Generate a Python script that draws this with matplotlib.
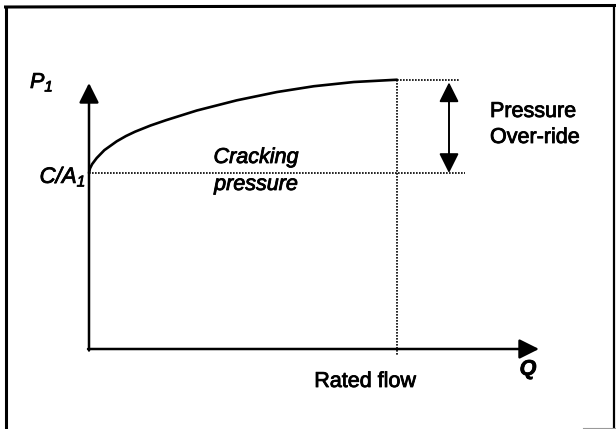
import matplotlib
matplotlib.use("Agg")
import matplotlib.pyplot as plt
from matplotlib.lines import Line2D
import matplotlib.patheffects as pe

plt.rcParams["font.family"] = ["Liberation Sans", "DejaVu Sans"]
plt.rcParams["mathtext.fontset"] = "custom"
plt.rcParams["mathtext.rm"] = "Liberation Sans:italic"
plt.rcParams["mathtext.it"] = "Liberation Sans:italic"
plt.rcParams["mathtext.bf"] = "Liberation Sans:bold"

# Relief-valve characteristic: inlet pressure P1 against flow Q
# (flow as a fraction of rated flow, pressure relative to cracking pressure)
flow = [0.0, 0.003, 0.01, 0.025, 0.05, 0.09, 0.12, 0.15, 0.2, 0.25, 0.35,
        0.48, 0.61, 0.73, 0.86, 1.0]
pressure = [1.0, 1.025, 1.05, 1.085, 1.13, 1.18, 1.21, 1.235, 1.27, 1.30,
            1.355, 1.413, 1.46, 1.493, 1.517, 1.53]

cracking_pressure = 1.0
rated_flow = 1.0
peak_pressure = pressure[-1]

W, H = 616, 429
fig = plt.figure(figsize=(W / 100, H / 100), dpi=100)
ax = fig.add_axes([0, 0, 1, 1])
ax.set_axis_off()

# data window: origin of the diagram sits at (89, 349) px, 308 px per unit flow,
# 176 px per unit pressure
x0, y0, sx, sy = 89, 349, 308, 176
ax.set_xlim(-x0 / sx, (W - x0) / sx)
ax.set_ylim(-(H - y0) / sy, y0 / sy)

def qx(px):
    return (px - x0) / sx

def py_(py):
    return (y0 - py) / sy

ink = "black"

# outer frame
frame_kw = dict(transform=ax.transAxes, color=ink, solid_capstyle="butt")
ax.add_line(Line2D([5.5 / W, 5.5 / W], [1 - 5.5 / H, 0], lw=2.2, **frame_kw))
ax.add_line(Line2D([4 / W, 1], [1 - 7 / H, 1 - 5.5 / H], lw=2.2, **frame_kw))
ax.add_line(Line2D([613.5 / W, 613.5 / W], [1 - 6 / H, 0], lw=1.6, **frame_kw))
ax.add_line(Line2D([583 / W, 1], [1 - 427.5 / H, 1 - 427.5 / H], lw=0.8,
                   transform=ax.transAxes, color="#9a9a9a"))

# axes with arrowheads
arrow_kw = dict(arrowstyle="-|>", mutation_scale=30, lw=1.8, color=ink,
                shrinkA=0, shrinkB=0)
ax.annotate("", xy=(0, py_(83)), xytext=(0, py_(350.5)),
            arrowprops=arrow_kw, annotation_clip=False)
ax.annotate("", xy=(qx(539), 0), xytext=(qx(88), 0),
            arrowprops=arrow_kw, annotation_clip=False)

# characteristic curve
ax.plot(flow, pressure, color=ink, lw=1.9, solid_capstyle="round",
        solid_joinstyle="round", clip_on=False)

# dotted reference lines
dot_kw = dict(color=ink, lw=1.2, linestyle=(0, (1, 0.8)), clip_on=False)
ax.plot([0, qx(465)], [cracking_pressure, cracking_pressure], **dot_kw)
ax.plot([rated_flow, qx(459)], [peak_pressure, peak_pressure], **dot_kw)
ax.plot([rated_flow, rated_flow], [peak_pressure, py_(355)], **dot_kw)

# pressure over-ride span
ax.annotate("", xy=(qx(449), peak_pressure - 0.015),
            xytext=(qx(449), cracking_pressure),
            arrowprops=dict(arrowstyle="<|-|>", mutation_scale=30, lw=1.4,
                            color=ink, shrinkA=0, shrinkB=0),
            annotation_clip=False)

fs = 15.5
heavy = [pe.withStroke(linewidth=0.6, foreground=ink)]
txt = dict(fontsize=fs, va="baseline", path_effects=heavy)
ax.text(qx(30), py_(88), r"$P_1$", ha="left", **txt)
ax.text(qx(86), py_(183), r"$C/A_1$", ha="right", fontsize=16, va="baseline",
        path_effects=heavy)
ax.text(qx(256), py_(163), "Cracking", style="italic", ha="center", **txt)
ax.text(qx(256), py_(190), "pressure", style="italic", ha="center", **txt)
ax.text(qx(490), py_(117), "Pressure", ha="left", **txt)
ax.text(qx(490), py_(143), "Over-ride", ha="left", **txt)
ax.text(qx(365), py_(387), "Rated flow", ha="center", **txt)
ax.text(qx(528), py_(375), "Q", style="italic", weight="bold", ha="center",
        **txt)

fig.savefig("out.png", dpi=100)
